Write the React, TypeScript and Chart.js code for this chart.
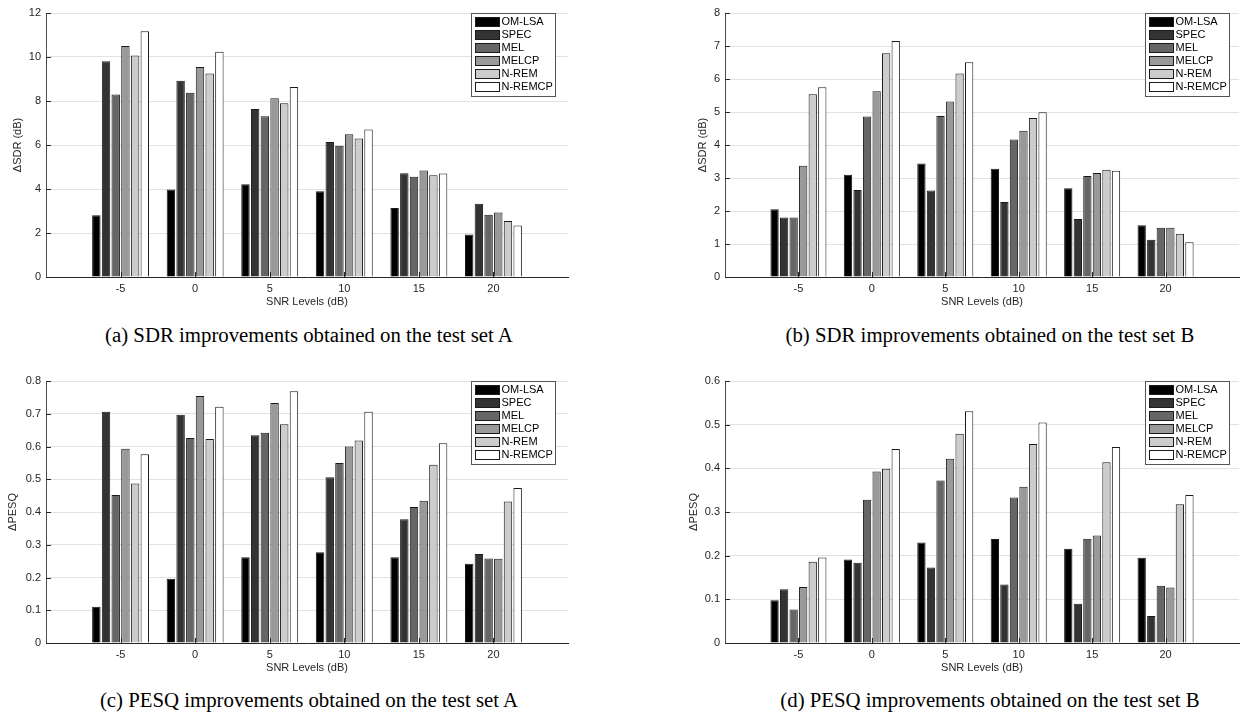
import React, { useEffect, useRef } from "react";
import { Chart, registerables } from "chart.js";

Chart.register(...registerables);

// ---------- data ----------
const snrLevels = ["-5", "0", "5", "10", "15", "20"];
const methods = ["OM-LSA", "SPEC", "MEL", "MELCP", "N-REM", "N-REMCP"];
const methodColors = ["#000000", "#333333", "#666666", "#999999", "#cccccc", "#ffffff"];

// rows follow `methods`, columns follow `snrLevels`
const sdrSetA = [
  [2.81, 3.98, 4.22, 3.9, 3.14, 1.93],
  [9.81, 8.92, 7.64, 6.14, 4.72, 3.33],
  [8.29, 8.37, 7.31, 5.97, 4.56, 2.83],
  [10.5, 9.54, 8.13, 6.49, 4.84, 2.93],
  [10.07, 9.25, 7.9, 6.3, 4.62, 2.55],
  [11.17, 10.24, 8.64, 6.71, 4.7, 2.34],
];
const sdrSetB = [
  [2.05, 3.1, 3.44, 3.28, 2.69, 1.57],
  [1.8, 2.64, 2.62, 2.27, 1.76, 1.13],
  [1.8, 4.86, 4.88, 4.17, 3.06, 1.49],
  [3.37, 5.63, 5.32, 4.43, 3.15, 1.49],
  [5.54, 6.78, 6.17, 4.82, 3.25, 1.31],
  [5.75, 7.15, 6.51, 4.99, 3.22, 1.05],
];
const pesqSetA = [
  [0.111, 0.196, 0.262, 0.277, 0.262, 0.242],
  [0.706, 0.697, 0.634, 0.506, 0.378, 0.272],
  [0.452, 0.626, 0.642, 0.55, 0.415, 0.258],
  [0.593, 0.754, 0.733, 0.6, 0.434, 0.257],
  [0.487, 0.623, 0.668, 0.618, 0.544, 0.432],
  [0.576, 0.721, 0.769, 0.706, 0.61, 0.473],
];
const pesqSetB = [
  [0.098, 0.191, 0.23, 0.238, 0.216, 0.195],
  [0.123, 0.184, 0.173, 0.134, 0.09, 0.062],
  [0.077, 0.328, 0.372, 0.333, 0.239, 0.131],
  [0.128, 0.393, 0.422, 0.358, 0.246, 0.127],
  [0.186, 0.399, 0.479, 0.456, 0.414, 0.318],
  [0.196, 0.444, 0.531, 0.505, 0.449, 0.339],
];

const xTitle = "SNR Levels (dB)";
const captions = [
  "(a) SDR improvements obtained on the test set A",
  "(b) SDR improvements obtained on the test set B",
  "(c) PESQ improvements obtained on the test set A",
  "(d) PESQ improvements obtained on the test set B",
];

// ---------- styling ----------
const FONT = '"Liberation Sans", Arial, Helvetica, sans-serif';
const TEXT = "#262626";

type Box = {
  left: number;
  top: number;
  width: number;
  height: number;
  plotLeft: number;
  plotTop: number;
  plotRight: number;
  plotBottom: number;
  titleX: number;
  legendInset: number;
};

type PanelProps = {
  values: number[][];
  yMax: number;
  yStep: number;
  yTitle: string;
  box: Box;
};

const insideTicksPlugin = {
  id: "insideTicks",
  afterDatasetsDraw(chart: any) {
    const { ctx, chartArea, scales } = chart;
    const x = scales.x;
    const y = scales.y;
    ctx.save();
    ctx.strokeStyle = TEXT;
    ctx.lineWidth = 1;
    ctx.beginPath();
    y.ticks.forEach((_t: any, i: number) => {
      const py = Math.round(y.getPixelForTick(i)) + 0.5;
      ctx.moveTo(chartArea.left, py);
      ctx.lineTo(chartArea.left + 5, py);
    });
    x.ticks.forEach((t: any, i: number) => {
      const lbl = x.getLabelForValue(t.value);
      if (lbl === "") return;
      const px = Math.round(x.getPixelForTick(i)) + 0.5;
      ctx.moveTo(px, chartArea.bottom);
      ctx.lineTo(px, chartArea.bottom - 5);
    });
    ctx.stroke();
    ctx.restore();
  },
};

function makeLegendPlugin(inset: number) {
  return {
    id: "boxLegend",
    afterDraw(chart: any) {
      const { ctx, chartArea } = chart;
      const w = 84;
      const h = 83;
      const x0 = Math.round(chartArea.right - inset - w) + 0.5;
      const y0 = Math.round(chartArea.top) + 0.5;
      ctx.save();
      ctx.fillStyle = "#ffffff";
      ctx.fillRect(x0, y0, w, h);
      ctx.strokeStyle = "#555555";
      ctx.lineWidth = 1;
      ctx.strokeRect(x0, y0, w, h);
      ctx.font = `11px ${FONT}`;
      ctx.textBaseline = "middle";
      ctx.textAlign = "left";
      chart.data.datasets.forEach((ds: any, i: number) => {
        const cy = y0 + 7.7 + i * 13.1;
        const sx = x0 + 4;
        const sy = Math.round(cy - 4.5) + 0.5;
        ctx.fillStyle = ds.backgroundColor;
        ctx.fillRect(sx, sy, 24, 9);
        ctx.strokeStyle = "#1a1a1a";
        ctx.strokeRect(sx, sy, 24, 9);
        ctx.fillStyle = "#000000";
        ctx.fillText(ds.label, x0 + 30, cy + 0.5);
      });
      ctx.restore();
    },
  };
}

function Panel({ values, yMax, yStep, yTitle, box }: PanelProps) {
  const ref = useRef<HTMLCanvasElement | null>(null);
  useEffect(() => {
    if (!ref.current) return;
    const labels = ["", ...snrLevels, ""];
    const chart = new Chart(ref.current, {
      type: "bar",
      data: {
        labels,
        datasets: methods.map((m, i) => ({
          label: m,
          data: [null, ...values[i], null],
          backgroundColor: methodColors[i],
          borderColor: "#1a1a1a",
          borderWidth: 1,
          categoryPercentage: 0.78,
          barPercentage: 0.87,
        })),
      },
      options: {
        animation: false,
        responsive: false,
        maintainAspectRatio: false,
        layout: {
          padding: {
            left: 0,
            top: box.plotTop - box.top,
            right: box.left + box.width - box.plotRight,
            bottom: 0,
          },
        },
        plugins: {
          legend: { display: false },
          tooltip: { enabled: false },
        },
        scales: {
          x: {
            type: "category",
            offset: false,
            grid: { display: false, drawTicks: false },
            border: { display: true, color: "#262626", width: 1 },
            ticks: {
              autoSkip: false,
              maxRotation: 0,
              minRotation: 0,
              padding: 5,
              color: TEXT,
              font: { family: FONT, size: 11 },
            },
            title: {
              display: true,
              text: xTitle,
              color: TEXT,
              font: { family: FONT, size: 11 },
              padding: { top: 0, bottom: 1 },
            },
            afterFit: (s: any) => {
              s.height = box.top + box.height - box.plotBottom;
            },
          },
          y: {
            min: 0,
            max: yMax,
            grid: { color: "#e2e2e2", lineWidth: 1, drawTicks: false },
            border: { display: true, color: "#4d4d4d", width: 1 },
            ticks: {
              stepSize: yStep,
              padding: 5,
              color: TEXT,
              font: { family: FONT, size: 11 },
              callback: (v: any) => String(Math.round(Number(v) * 10) / 10),
            },
            title: {
              display: true,
              text: yTitle,
              color: TEXT,
              font: { family: FONT, size: 11 },
              padding: { top: box.titleX - box.left - 6.6, bottom: 0 },
            },
            afterFit: (s: any) => {
              s.width = box.plotLeft - box.left;
            },
          },
        },
      },
      plugins: [insideTicksPlugin, makeLegendPlugin(box.legendInset)],
    } as any);
    return () => chart.destroy();
  }, []);
  return (
    <canvas
      ref={ref}
      width={box.width}
      height={box.height}
      style={{
        position: "absolute",
        left: box.left,
        top: box.top,
        width: box.width,
        height: box.height,
      }}
    />
  );
}

const boxA: Box = { left: 0, top: 0, width: 610, height: 310, plotLeft: 46, plotTop: 13, plotRight: 568, plotBottom: 277, titleX: 18, legendInset: 13 };
const boxB: Box = { left: 610, top: 0, width: 634, height: 310, plotLeft: 725, plotTop: 13, plotRight: 1244, plotBottom: 277, titleX: 703, legendInset: 10 };
const boxC: Box = { left: 0, top: 367, width: 610, height: 309, plotLeft: 46, plotTop: 381, plotRight: 568, plotBottom: 643, titleX: 13, legendInset: 13 };
const boxD: Box = { left: 610, top: 367, width: 634, height: 309, plotLeft: 725, plotTop: 381, plotRight: 1244, plotBottom: 643, titleX: 694, legendInset: 10 };

function Caption({ text, cx, cy }: { text: string; cx: number; cy: number }) {
  return (
    <div
      style={{
        position: "absolute",
        left: cx - 300,
        top: cy - 12,
        width: 600,
        height: 24,
        lineHeight: "24px",
        textAlign: "center",
        fontFamily: '"Liberation Serif", "Times New Roman", serif',
        fontSize: 20.8,
        color: "#000",
        whiteSpace: "nowrap",
      }}
    >
      {text}
    </div>
  );
}

export default function App() {
  return (
    <div
      style={{
        position: "absolute",
        left: 0,
        top: 0,
        width: 1244,
        height: 713,
        background: "#ffffff",
        overflow: "hidden",
      }}
    >
      <Panel values={sdrSetA} yMax={12} yStep={2} yTitle="ΔSDR (dB)" box={boxA} />
      <Panel values={sdrSetB} yMax={8} yStep={1} yTitle="ΔSDR (dB)" box={boxB} />
      <Panel values={pesqSetA} yMax={0.8} yStep={0.1} yTitle="ΔPESQ" box={boxC} />
      <Panel values={pesqSetB} yMax={0.6} yStep={0.1} yTitle="ΔPESQ" box={boxD} />
      <Caption text={captions[0]} cx={309} cy={335} />
      <Caption text={captions[1]} cx={990} cy={335} />
      <Caption text={captions[2]} cx={309} cy={700} />
      <Caption text={captions[3]} cx={990} cy={700} />
    </div>
  );
}
